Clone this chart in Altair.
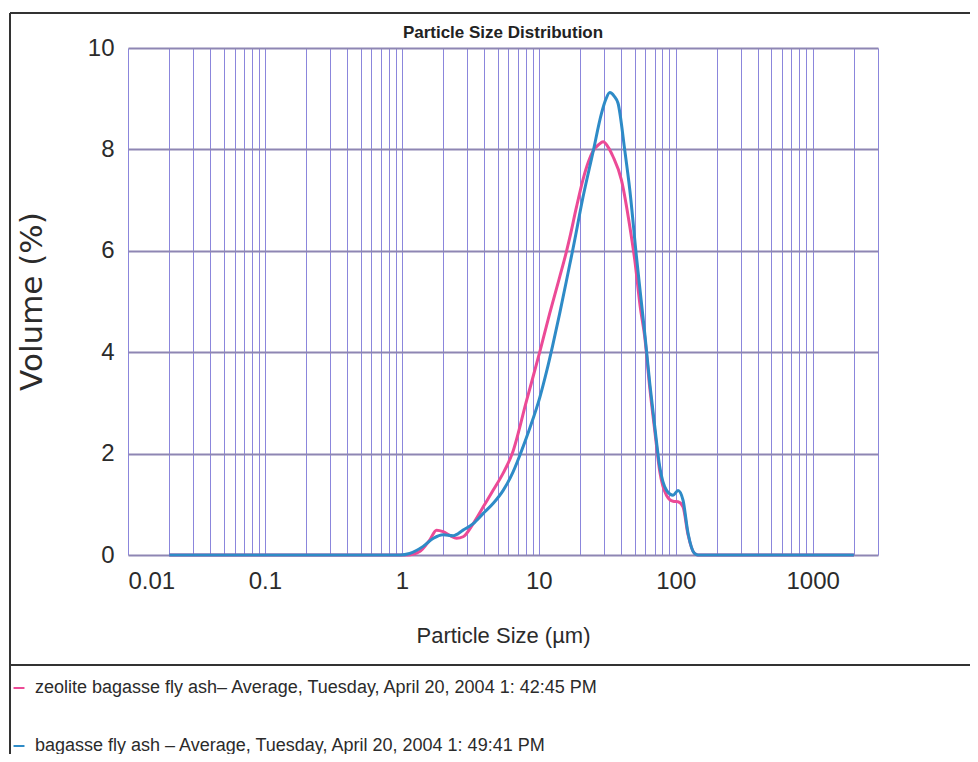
import altair as alt
import pandas as pd

# ---------------- data ----------------
series_names = [
    "zeolite bagasse fly ash– Average, Tuesday, April 20, 2004 1: 42:45 PM",
    "bagasse fly ash – Average, Tuesday, April 20, 2004 1: 49:41 PM",
]
series_colors = ["#ec4a96", "#2e8bc7"]

zeolite_size = [0.02, 0.5, 1.1, 1.35, 1.6, 1.79, 2.0, 2.25, 2.51, 2.8, 3.32, 3.93,
                4.65, 5.48, 6.4, 8.13, 10.2, 12.0, 14.2, 15.9, 16.8, 18.8,
                21.0, 23.0, 24.9, 27.5, 29.5, 32.0, 34.8, 40.1, 46.2, 50.2, 55.0, 59.4,
                64.6, 70.3, 76.4, 85.5, 95.6, 104, 113, 123, 137, 145, 500, 2000]
zeolite_vol = [0.0, 0.0, 0.0, 0.07, 0.3, 0.49, 0.46, 0.38, 0.33, 0.36, 0.62, 0.95,
               1.28, 1.61, 2.0, 3.04, 4.02, 4.76, 5.48, 5.98, 6.25, 6.85,
               7.4, 7.75, 7.97, 8.1, 8.15, 8.05, 7.86, 7.40, 6.48, 5.82, 4.9, 4.3,
               3.3, 2.45, 1.65, 1.18, 1.06, 1.05, 0.95, 0.40, 0.03, 0.0, 0.0, 0.0]

bagasse_size = [0.02, 0.5, 0.97, 1.14, 1.43, 1.70, 2.0, 2.37, 2.8, 3.32, 3.93, 4.65,
                5.48, 6.49, 7.35, 8.59, 10.2, 11.4, 12.6, 14.2, 16.8, 17.8,
                21.0, 24.9, 28.7, 31.0, 33.0, 35.5, 37.9, 42.5, 46.2, 51.6, 55.0,
                59.4, 64.6, 70.3, 76.4, 85.5, 95.6, 104, 113, 123, 137, 145, 500, 2000]
bagasse_vol = [0.0, 0.0, 0.0, 0.03, 0.17, 0.33, 0.40, 0.38, 0.49, 0.62, 0.82, 1.02,
               1.27, 1.64, 2.0, 2.5, 3.12, 3.62, 4.12, 4.76, 5.72, 6.05,
               7.05, 7.95, 8.71, 9.0, 9.12, 9.05, 8.91, 7.97, 7.2, 5.9, 5.2,
               4.37, 3.39, 2.53, 1.74, 1.28, 1.18, 1.27, 1.08, 0.43, 0.03, 0.0, 0.0, 0.0]

y_ticks = [0, 2, 4, 6, 8, 10]
x_labels = [0.01, 0.1, 1, 10, 100, 1000]
x_grid = [round(m * 10 ** e, 6) for e in range(-2, 3) for m in range(1, 10)] + [1000, 2000, 3000]

SANS = "'Liberation Sans', Arial, sans-serif"

zeo = pd.DataFrame({"size": zeolite_size, "volume": zeolite_vol, "series": series_names[0]})
bag = pd.DataFrame({"size": bagasse_size, "volume": bagasse_vol, "series": series_names[1]})

label_expr = "indexof([0.01, 0.1, 1, 10, 100, 1000], datum.value) >= 0 ? datum.label : ''"

x_enc = alt.X(
    "size:Q",
    scale=alt.Scale(type="log", domain=[0.01, 3000], nice=False),
    axis=alt.Axis(
        values=x_grid, format="~g", labelExpr=label_expr,
        grid=True, gridColor="#8b86dc", gridWidth=1,
        domain=False, ticks=False,
        labelFont=SANS, labelFontSize=24, labelColor="#2b2b2b", labelPadding=14,
        labelOverlap=False,
        title="Particle Size (µm)", titleFont=SANS, titleFontSize=22,
        titleFontWeight="normal", titleColor="#2b2b2b",
        titleX=375, titleY=80, titleAlign="center", titleBaseline="middle",
    ),
)
y_enc = alt.Y(
    "volume:Q",
    scale=alt.Scale(domain=[0, 10], nice=False),
    axis=alt.Axis(
        values=y_ticks, grid=True, gridColor="#8e86b3", gridWidth=2,
        domain=False, ticks=False,
        labelFont=SANS, labelFontSize=24, labelColor="#2b2b2b", labelPadding=14,
        title="Volume (%)", titleFont="DejaVu Sans", titleFontSize=31,
        titleFontWeight="normal", titleColor="#2b2b2b",
        titleX=-96, titleY=253, titleAlign="center", titleBaseline="middle",
    ),
)
color_enc = alt.Color(
    "series:N",
    scale=alt.Scale(domain=series_names, range=series_colors),
    legend=alt.Legend(
        title=None, orient="none", legendX=-118, legendY=631,
        symbolType="stroke", symbolSize=120, symbolStrokeWidth=2,
        labelFont=SANS, labelFontSize=18, labelColor="#2b2b2b",
        labelLimit=900, rowPadding=40, labelOffset=7,
    ),
)

pink = alt.Chart(zeo).mark_line(strokeWidth=3, interpolate="monotone").encode(
    x=x_enc, y=y_enc, color=color_enc)
blue = alt.Chart(bag).mark_line(strokeWidth=3, interpolate="monotone").encode(
    x=x_enc, y=y_enc, color=color_enc)

one = alt.Data(values=[{"k": 0}])
top_border = alt.Chart(one).mark_rule(color="#333333", strokeWidth=2).encode(
    x=alt.value(-118), x2=alt.value(842), y=alt.value(-35))
left_border = alt.Chart(one).mark_rule(color="#333333", strokeWidth=2).encode(
    x=alt.value(-118), y=alt.value(-35), y2=alt.value(706))
divider = alt.Chart(one).mark_rule(color="#333333", strokeWidth=2).encode(
    x=alt.value(-118), x2=alt.value(842), y=alt.value(617))
title = alt.Chart(one).mark_text(
    text="Particle Size Distribution", font=SANS, fontSize=17, fontWeight="bold",
    color="#222222", align="center", baseline="middle",
).encode(x=alt.value(375), y=alt.value(-15))

chart = alt.layer(top_border, left_border, divider, title, pink, blue).properties(
    width=750, height=507,
    autosize=alt.AutoSizeParams(type="none"),
    padding={"left": 120, "top": 40, "right": 92, "bottom": 199},
    background="white",
).configure_view(strokeWidth=0)

chart.save("out.html", embed_options={"renderer": "svg", "actions": False})
